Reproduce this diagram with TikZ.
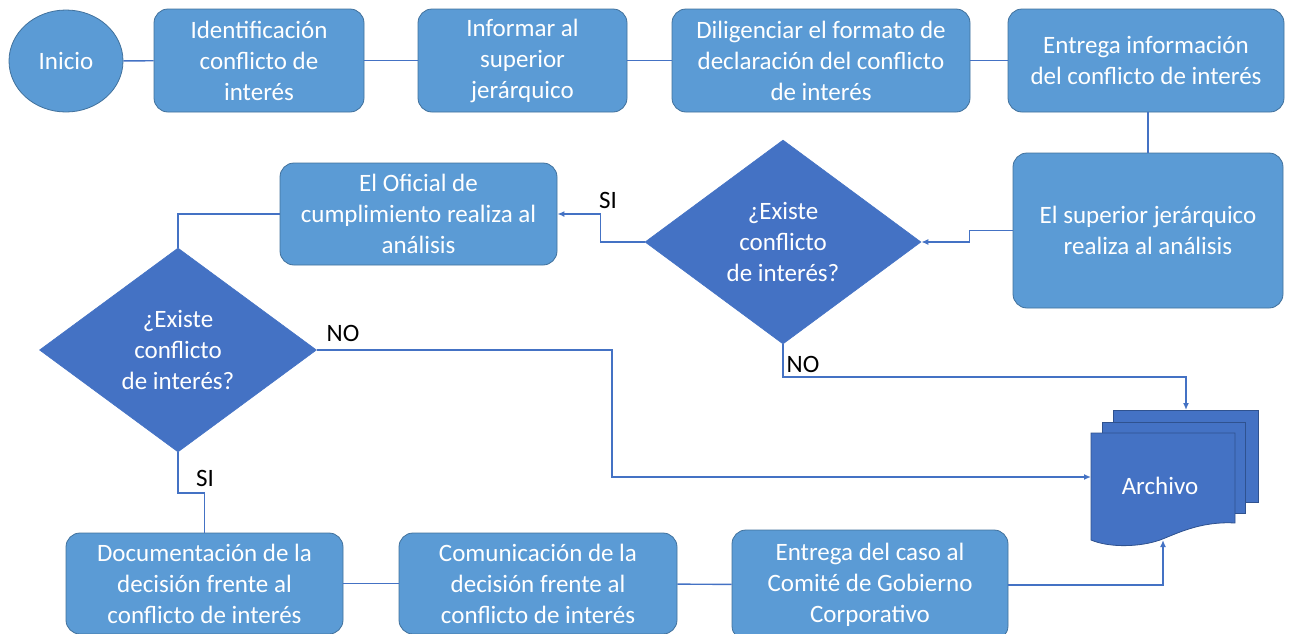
\documentclass[tikz,border=0pt]{standalone}
\usepackage{fontspec}
\setmainfont{Carlito}
\usetikzlibrary{shapes.geometric,arrows.meta}
\definecolor{boxfill}{HTML}{5B9BD5}
\definecolor{boxline}{HTML}{41719C}
\definecolor{dfill}{HTML}{4472C4}
\definecolor{dline}{HTML}{2F528F}
\definecolor{conncol}{HTML}{4472C4}
\tikzset{
  proc/.style={rectangle, rounded corners=14pt, fill=boxfill, draw=boxline, line width=0.8pt,
    text=white, align=center, inner sep=0pt, font=\fontsize{25}{31}\selectfont},
  term/.style={ellipse, fill=boxfill, draw=boxline, line width=0.8pt, text=white,
    inner sep=0pt, minimum width=114pt, minimum height=102pt, font=\fontsize{25}{31}\selectfont},
  decis/.style={diamond, fill=dfill, draw=dfill, line width=0.6pt, text=white, align=center,
    inner sep=0pt, aspect=1.35, font=\fontsize{25}{31}\selectfont},
  conn/.style={draw=conncol, line width=1.4pt},
  arr/.style={conn, -{Latex[length=7pt,width=6pt]}},
  lbl/.style={text=black, inner sep=0pt, font=\fontsize{25}{31}\selectfont},
  page/.style={fill=dfill, draw=dline, line width=0.8pt}
}
\begin{document}
\begin{tikzpicture}[x=1pt,y=-1pt]
\useasboundingbox (0,0) rectangle (1291,633);
% top row
\node[term] (start) at (66,61) {Inicio};
\node[proc, minimum width=210pt, minimum height=103pt] (ident) at (259,60.5) {Identificación\\conflicto de\\interés};
\node[proc, minimum width=209pt, minimum height=103pt] (inf) at (522.5,60.5) {Informar al\\superior\\jerárquico};
\node[proc, minimum width=298pt, minimum height=103pt] (dil) at (821,60.5) {Diligenciar el formato de\\declaración del conflicto\\de interés};
\node[proc, minimum width=276pt, minimum height=103pt] (einfo) at (1146,60.5) {Entrega información\\del conflicto de interés};
% middle
\node[proc, minimum width=270pt, minimum height=155pt] (sup) at (1148,230.5) {El superior jerárquico\\realiza al análisis};
\node[decis, minimum width=276pt, minimum height=204pt] (d1) at (783,242) {¿Existe\\conflicto\\de interés?};
\node[proc, minimum width=277pt, minimum height=102pt] (ofi) at (418.5,214) {El Oficial de\\cumplimiento realiza al\\análisis};
\node[decis, minimum width=277pt, minimum height=204pt] (d2) at (178,350) {¿Existe\\conflicto\\de interés?};
% bottom
\node[proc, minimum width=277pt, minimum height=101pt] (doc) at (204.5,583.5) {Documentación de la\\decisión frente al\\conflicto de interés};
\node[proc, minimum width=278pt, minimum height=101pt] (com) at (538,583.5) {Comunicación de la\\decisión frente al\\conflicto de interés};
\node[proc, minimum width=276pt, minimum height=110pt] (caso) at (870,585) {Entrega del caso al\\Comité de Gobierno\\Corporativo};
% Archivo (multi-document)
\draw[page] (1113,410) rectangle (1258,502);
\draw[page] (1102,422) rectangle (1245,513);
\draw[page] (1091,433) -- (1235,433) -- (1235,523)
  .. controls (1200,521) and (1176,534) .. (1160,540)
  .. controls (1140,547) and (1110,548) .. (1091,540) -- cycle;
\node[text=white, inner sep=0pt, font=\fontsize{25}{31}\selectfont] (arch) at (1160,486) {Archivo};
\coordinate (archT) at (1186,410);
\coordinate (archL) at (1091,477);
\coordinate (archB) at (1163,540);
% connectors
\draw[conn] (start) -- (ident);
\draw[conn] (ident) -- (inf);
\draw[conn] (inf) -- (dil);
\draw[conn] (dil) -- (einfo);
\draw[conn] (sup.north |- einfo.south) -- (sup.north);
\draw[arr] (sup.west) -- ++(-43,0) |- (d1.east);
\draw[arr] (d1.west) -- ++(-44,0) |- (ofi.east);
\draw[conn] (ofi.west) -| (d2.north);
\draw[arr] (d2.east) -- (612,350) |- (archL);
\draw[arr] (d1.south) -- (783,377) -| (archT);
\draw[conn] (d2.south) -- (178,493) -| (doc.north);
\draw[conn] (doc) -- (com);
\draw[conn] (com) -- (caso);
\draw[arr] (caso.east) -| (archB);
% labels
\node[lbl] (si1) at (608,200) {SI};
\node[lbl] (no1) at (803,364) {NO};
\node[lbl] (no2) at (343,333) {NO};
\node[lbl] (si2) at (205,478) {SI};
\end{tikzpicture}
\end{document}
